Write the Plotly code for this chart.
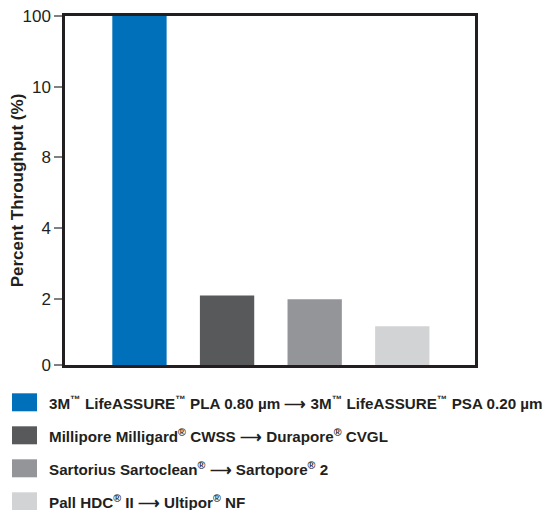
import numpy as np
import plotly.graph_objects as go

# ---- data ----
series = [
    "3M<sup>™</sup> LifeASSURE<sup>™</sup> PLA 0.80 µm ⟶ 3M<sup>™</sup> LifeASSURE<sup>™</sup> PSA 0.20 µm",
    "Millipore Milligard<sup>®</sup> CWSS ⟶ Durapore<sup>®</sup> CVGL",
    "Sartorius Sartoclean<sup>®</sup> ⟶ Sartopore<sup>®</sup> 2",
    "Pall HDC<sup>®</sup> II ⟶ Ultipor<sup>®</sup> NF",
]
throughput = [100, 2.1, 1.99, 1.17]
colors = ["#0070BA", "#58595B", "#939598", "#D1D3D4"]

# broken (non-linear) y-axis: tick labels and their positions on the axis
tick_labels = [0, 2, 4, 8, 10, 100]
tick_pos = [0, 0.934, 1.934, 2.934, 3.934, 4.934]

ypos = np.interp(throughput, tick_labels, tick_pos)
xcat = list(range(len(series)))

INK = "#231F20"
FONT = "Liberation Sans, Arial, sans-serif"

# the page body adds an 8px offset; compensate in layout
OFF = 8
left = 65 - OFF
top = 16 - OFF
right = 475 - OFF
bottom = 364.7 - OFF
W, H = 553, 510

fig = go.Figure()
fig.add_trace(go.Bar(
    x=xcat, y=ypos, width=0.62,
    marker=dict(color=colors, line=dict(width=0)),
    showlegend=False, hoverinfo="skip",
))

fig.update_layout(
    width=W, height=H,
    margin=dict(l=left, r=W - right, t=top, b=H - bottom, autoexpand=False),
    paper_bgcolor="white", plot_bgcolor="white",
    font=dict(family=FONT, color=INK),
    xaxis=dict(range=[-0.85, 3.83], showticklabels=False, ticks="",
               showgrid=False, zeroline=False,
               showline=True, linecolor=INK, linewidth=2.5, mirror=True),
    yaxis=dict(range=[0, tick_pos[-1]], tickvals=tick_pos,
               ticktext=[str(t) for t in tick_labels],
               ticklabeloverflow="allow",
               ticks="outside", ticklen=8, tickwidth=1.5, tickcolor="#808080",
               tickfont=dict(size=17, family=FONT, color=INK),
               showgrid=False, zeroline=False,
               showline=True, linecolor=INK, linewidth=2.5, mirror=True,
               title=dict(text="<b>Percent Throughput (%)</b>",
                          font=dict(size=17, family=FONT, color=INK),
                          standoff=2)),
)

# manual legend below the plot (pixel offsets from the bottom-left plot corner)
row_y = [402, 435, 468, 501]
for name, col, ry in zip(series, colors, row_y):
    ry = ry - OFF
    fig.add_shape(type="rect", xref="paper", yref="paper",
                  xsizemode="pixel", ysizemode="pixel", xanchor=0, yanchor=0,
                  x0=(12 - OFF) - left, x1=(37 - OFF) - left,
                  y0=bottom - (ry + 9), y1=bottom - (ry - 9),
                  fillcolor=col, line=dict(width=0))
    fig.add_annotation(xref="paper", yref="paper", x=0, y=0,
                       xshift=(47 - OFF) - left, yshift=bottom - ry,
                       xanchor="left", yanchor="middle", showarrow=False,
                       text="<b>" + name + "</b>",
                       font=dict(size=15.2, family=FONT, color=INK))

fig.write_html("out.html")
